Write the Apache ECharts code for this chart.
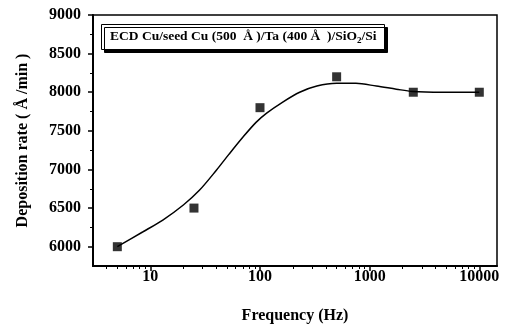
<!DOCTYPE html>
<html>
<head>
<meta charset="utf-8">
<script src="https://cdn.jsdelivr.net/npm/echarts@6/dist/echarts.min.js"></script>
<style>
  html, body { margin: 0; padding: 0; background: #fff; }
  #chart { width: 513px; height: 326px; }
</style>
</head>
<body>
<div id="chart"></div>
<script>
// measured points
const freqs = [5, 25, 100, 500, 2500, 10000];
const rates = [6000, 6500, 7800, 8200, 8000, 8000];

// fitted curve
const fitFreqs = [5, 8.5, 13, 20, 28, 40, 52, 70, 92, 115, 160, 230, 330, 500, 750, 1150, 1750, 2450, 4600, 10000];
const fitRates = [6000, 6190, 6345, 6540, 6730, 6990, 7195, 7420, 7610, 7730, 7870, 8000, 8080, 8115, 8115, 8080, 8040, 8010, 8000, 8000];

// tick values
const xMajor = [10, 100, 1000, 10000];
const xMinor = [4, 5, 6, 7, 8, 9, 20, 30, 40, 50, 60, 70, 80, 90, 200, 300, 400, 500, 600, 700, 800, 900,
                2000, 3000, 4000, 5000, 6000, 7000, 8000, 9000];
const yMajor = [6000, 6500, 7000, 7500, 8000, 8500, 9000];
const yMinor = [6250, 6750, 7250, 7750, 8250, 8750];

const font = '"Liberation Serif", "Times New Roman", serif';
const xMin = 3, xMax = 14500, yMin = 5750, yMax = 9000;

var chart = echarts.init(document.getElementById('chart'));

var nameStyle = { fontFamily: font, fontSize: 16, fontWeight: 'bold', color: '#000' };
var labelStyle = { fontFamily: font, fontSize: 16, fontWeight: 'bold', color: '#000' };
var plain = function (v) { return String(v); };

var option = {
    animation: false,
    backgroundColor: '#fff',
    title: {
        text: 'ECD Cu/seed Cu (500  Å )/Ta (400 Å  )/SiO{sub|2}/Si',
        left: 101,
        top: 23,
        padding: [6, 8, 5, 9],
        borderColor: '#000',
        borderWidth: 1,
        backgroundColor: '#fff',
        shadowColor: '#000',
        shadowOffsetX: 3,
        shadowOffsetY: 3,
        shadowBlur: 0,
        textStyle: {
            fontFamily: font,
            fontSize: 13.5,
            fontWeight: 'bold',
            color: '#000',
            rich: {
                sub: { fontFamily: font, fontSize: 9, fontWeight: 'bold', verticalAlign: 'bottom', padding: [7, 0, 0, 0] }
            }
        }
    },
    grid: {
        left: 93,
        right: 16,
        top: 15,
        bottom: 60,
        outerBoundsMode: 'none',
        show: true,
        borderColor: '#000',
        borderWidth: 1.5
    },
    xAxis: [
        {
            type: 'log',
            logBase: 10,
            min: xMin,
            max: xMax,
            position: 'bottom',
            name: 'Frequency (Hz)',
            nameLocation: 'middle',
            nameGap: 42,
            nameTextStyle: nameStyle,
            axisLine: { lineStyle: { color: '#000', width: 2 } },
            axisTick: { customValues: xMajor, length: 5, lineStyle: { color: '#000', width: 1.5 } },
            splitLine: { show: false },
            axisLabel: Object.assign({ customValues: xMajor, margin: 3, formatter: plain }, labelStyle)
        },
        {
            type: 'log',
            logBase: 10,
            min: xMin,
            max: xMax,
            position: 'bottom',
            axisLine: { show: true, lineStyle: { opacity: 0 } },
            axisTick: { show: true, customValues: xMinor, length: 3, lineStyle: { color: '#000', width: 1 } },
            axisLabel: { show: false },
            splitLine: { show: false }
        }
    ],
    yAxis: [
        {
            type: 'value',
            min: yMin,
            max: yMax,
            interval: 250,
            position: 'left',
            name: 'Deposition rate ( Å /min )',
            nameLocation: 'middle',
            nameGap: 62,
            nameTextStyle: nameStyle,
            axisLine: { show: true, lineStyle: { color: '#000', width: 2 } },
            axisTick: { show: true, customValues: yMajor, length: 5, lineStyle: { color: '#000', width: 1.5 } },
            splitLine: { show: false },
            axisLabel: Object.assign({ customValues: yMajor, margin: 12, formatter: plain }, labelStyle)
        },
        {
            type: 'value',
            min: yMin,
            max: yMax,
            interval: 250,
            position: 'left',
            axisLine: { show: true, lineStyle: { opacity: 0 } },
            axisTick: { show: true, customValues: yMinor, length: 3, lineStyle: { color: '#000', width: 1 } },
            axisLabel: { show: false },
            splitLine: { show: false }
        }
    ],
    series: [
        {
            type: 'line',
            data: fitFreqs.map((f, i) => [f, fitRates[i]]),
            smooth: 0.3,
            showSymbol: false,
            lineStyle: { color: '#000', width: 1.5 },
            z: 2
        },
        {
            type: 'scatter',
            data: freqs.map((f, i) => [f, rates[i]]),
            symbol: 'rect',
            symbolSize: 9,
            itemStyle: { color: '#000' },
            z: 3
        }
    ]
};

option && chart.setOption(option);
</script>
</body>
</html>
